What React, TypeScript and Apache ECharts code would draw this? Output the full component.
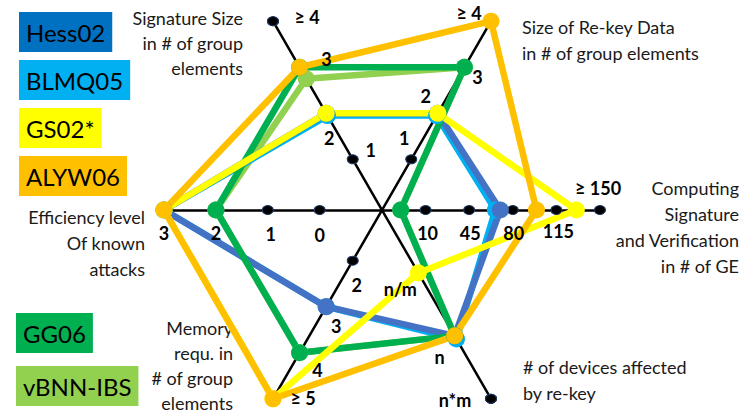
import React, { useEffect, useRef } from "react";
import * as echarts from "echarts";

// Axis order (counter-clockwise from the right): Computing, Re-key, Signature, Efficiency, Memory, Devices
const axisTitles = [
  "Computing\nSignature\nand Verification\nin # of GE",
  "Size of Re-key Data\nin # of group elements",
  "Signature Size\nin # of group\nelements",
  "Efficiency level\nOf known\nattacks",
  "Memory\nrequ. in\n# of group\nelements",
  "# of devices affected\nby re-key",
];
const axisMin = [-25, -0.1, -0.1, -1.2, 0.9, 0];
const axisMax = [150, 4, 4, 3, 5, 3];
const tickValues = [
  [10, 45, 80, 115, 150],
  [1, 2, 3, 4],
  [1, 2, 3, 4],
  [0, 1, 2, 3],
  [2, 3, 4, 5],
  [1, 2, 3],
];
const tickLabels = [
  ["10", "45", "80", "115", "≥ 150"],
  ["1", "2", "3", "≥ 4"],
  ["1", "2", "3", "≥ 4"],
  ["0", "1", "2", "3"],
  ["2", "3", "4", "≥ 5"],
  ["n/m", "n", "n*m"],
];

// Series values (same axis order)
const vbnnIbs = [-10, 3, 2.75, 2, 4, 2];
const blmq05 = [66, 1.95, 1.95, 3, 3, 2.05];
const hess02 = [70, 2, 2, 3, 3, 2];
const gg06 = [-10, 3, 3, 2, 4, 2];
const gs02 = [131, 2, 2, 3, 5, 1];
const alyw06 = [99, 4, 3, 3, 5, 2];

const seriesNames = ["vBNN-IBS", "BLMQ05", "Hess02", "GG06", "GS02*", "ALYW06"];
const seriesValues = [vbnnIbs, blmq05, hess02, gg06, gs02, alyw06];
const legendTop = ["Hess02", "BLMQ05", "GS02*", "ALYW06"];
const legendBottom = ["GG06", "vBNN-IBS"];

// styles
const lineColors: Record<string, string> = {
  "vBNN-IBS": "#92D050",
  BLMQ05: "#00B0F0",
  Hess02: "#4472C4",
  GG06: "#00B050",
  "GS02*": "#FFFF00",
  ALYW06: "#FFC000",
};
const legendColors: Record<string, string> = {
  "vBNN-IBS": "#92D050",
  BLMQ05: "#00B0F0",
  Hess02: "#0070C0",
  GG06: "#00B050",
  "GS02*": "#FFFF00",
  ALYW06: "#FFC000",
};
const tickLabelOffsets: number[][][] = [
  [[2, 23], [1, 23], [1, 23], [2, 21], [-2, -22]],
  [[-7, -21], [-12, -17], [13, 10], [-22, -8]],
  [[18, -9], [3, 25], [27, -8], [34, -4]],
  [[0, 25], [3, 24], [0, 23], [0, 23]],
  [[4, 24], [10, 19], [18, 17], [30, -1]],
  [[-18, 16], [-15, 21], [-36, 1]],
];
const titleLayout = [
  { x: 739, y: 175, align: "right", lh: 26 },
  { x: 522, y: 14, align: "left", lh: 26 },
  { x: 243, y: 5, align: "right", lh: 25 },
  { x: 145, y: 204, align: "right", lh: 26 },
  { x: 233, y: 315, align: "right", lh: 25 },
  { x: 523, y: 354, align: "left", lh: 26 },
];

const FONT = "Lato, 'Open Sans', sans-serif";

export default function App() {
  const ref = useRef<HTMLDivElement>(null);
  useEffect(() => {
    if (!ref.current) return;
    const chart = echarts.init(ref.current, undefined, { renderer: "svg" });

    const maxTicks = Math.max(...tickValues.map((t) => t.length));
    const rings = [];
    for (let k = 0; k < maxTicks; k++) {
      rings.push({ value: tickValues.map((t) => t[Math.min(k, t.length - 1)]) });
    }

    const labelItems: { axis: number; text: string; value: number[]; offset: number[] }[] = [];
    tickValues.forEach((ticks, a) =>
      ticks.forEach((v, k) =>
        labelItems.push({
          axis: a,
          text: tickLabels[a][k],
          value: axisMin.map((m, i) => (i === a ? v : m)),
          offset: tickLabelOffsets[a][k],
        })
      )
    );

    const legendText = { fontFamily: FONT, fontSize: 24, color: "#000", padding: [5, 7, 5, 7], lineHeight: 30 };
    const option: any = {
      animation: false,
      legend: [
        {
          left: 9,
          top: 7,
          orient: "vertical",
          itemGap: 8,
          itemWidth: 0,
          itemHeight: 0,
          selectedMode: false,
          data: legendTop.map((n) => ({ name: n, textStyle: { backgroundColor: legendColors[n] } })),
          textStyle: legendText,
        },
        {
          left: 6,
          bottom: 1,
          orient: "vertical",
          itemGap: 13,
          itemWidth: 0,
          itemHeight: 0,
          selectedMode: false,
          data: legendBottom.map((n) => ({ name: n, textStyle: { backgroundColor: legendColors[n] } })),
          textStyle: legendText,
        },
      ],
      radar: {
        center: [382, 210],
        radius: 218,
        startAngle: 0,
        splitNumber: 4,
        indicator: axisTitles.map((n, i) => ({ name: n, min: axisMin[i], max: axisMax[i] })),
        axisName: { show: false },
        splitLine: { show: false },
        splitArea: { show: false },
        axisTick: { show: false },
        axisLabel: { show: false },
        axisLine: { lineStyle: { color: "#000", width: 2.5 } },
      },
      graphic: axisTitles.map((t, i) => ({
        type: "text",
        x: titleLayout[i].x,
        y: titleLayout[i].y,
        style: {
          text: t,
          align: titleLayout[i].align,
          verticalAlign: "top",
          fontFamily: FONT,
          fontSize: 18,
          lineHeight: titleLayout[i].lh,
          fill: "#1a1a1a",
        },
      })),
      series: [
        {
          type: "radar",
          name: "tickLabels",
          silent: true,
          symbol: "circle",
          symbolSize: 1,
          itemStyle: { color: "rgba(0,0,0,0)" },
          lineStyle: { width: 0, opacity: 0 },
          label: {
            show: true,
            position: "inside",
            fontFamily: FONT,
            fontWeight: "bold",
            fontSize: 18,
            color: "#000",
            formatter: (p: any) =>
              p.dimensionIndex === labelItems[p.dataIndex].axis ? labelItems[p.dataIndex].text : "",
          },
          data: labelItems.map((it) => ({ value: it.value, label: { offset: it.offset } })),
        },
        {
          type: "radar",
          name: "ticks",
          silent: true,
          symbol: "circle",
          symbolSize: [11, 9],
          itemStyle: { color: "#000", borderColor: "#1f3864", borderWidth: 1 },
          lineStyle: { width: 0, opacity: 0 },
          data: rings,
        },
        ...seriesNames.map((n, i) => ({
          type: "radar",
          name: n,
          symbol: "circle",
          symbolSize: 17,
          itemStyle: { color: lineColors[n] },
          lineStyle: { color: lineColors[n], width: 6.5 },
          data: [{ name: n, value: seriesValues[i] }],
        })),
      ],
    };
    chart.setOption(option);
    return () => chart.dispose();
  }, []);
  return <div ref={ref} style={{ position: "absolute", left: 0, top: 0, width: 742, height: 412 }} />;
}
